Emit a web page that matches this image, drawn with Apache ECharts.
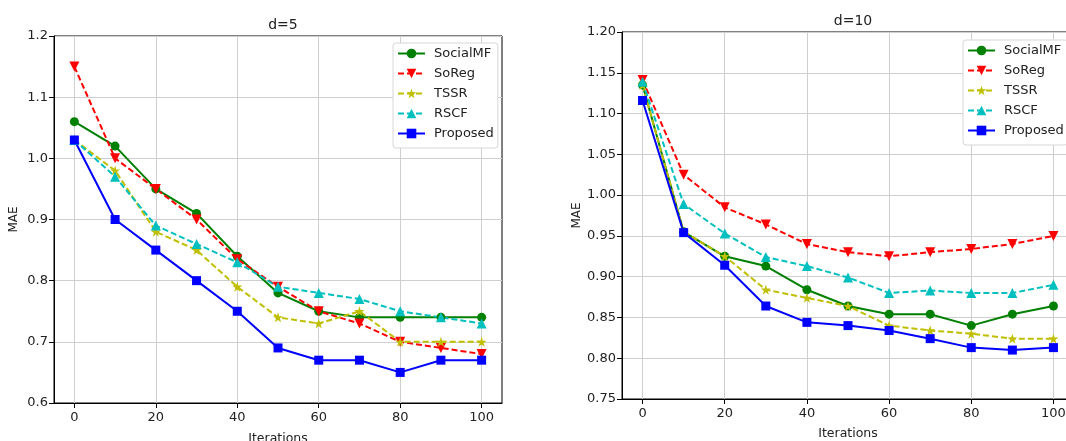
<!DOCTYPE html>
<html>
<head>
<meta charset="utf-8">
<script src="https://cdn.jsdelivr.net/npm/echarts@6/dist/echarts.min.js"></script>
<style>html,body{margin:0;padding:0;background:#fff;}#c{width:1066px;height:441px;}</style>
</head>
<body>
<div id="c"></div>
<script>
const iterations = [0, 10, 20, 30, 40, 50, 60, 70, 80, 90, 100];
const xTicks = [0, 20, 40, 60, 80, 100];
const seriesNames = ['SocialMF', 'SoReg', 'TSSR', 'RSCF', 'Proposed'];

const d5SocialMF = [1.06, 1.02, 0.95, 0.91, 0.84, 0.78, 0.75, 0.74, 0.74, 0.74, 0.74];
const d5SoReg    = [1.15, 1.00, 0.95, 0.90, 0.835, 0.79, 0.75, 0.73, 0.70, 0.69, 0.68];
const d5TSSR     = [1.03, 0.98, 0.88, 0.85, 0.79, 0.74, 0.73, 0.75, 0.70, 0.70, 0.70];
const d5RSCF     = [1.03, 0.97, 0.89, 0.86, 0.83, 0.79, 0.78, 0.77, 0.75, 0.74, 0.73];
const d5Proposed = [1.03, 0.90, 0.85, 0.80, 0.75, 0.69, 0.67, 0.67, 0.65, 0.67, 0.67];

const d10SocialMF = [1.135, 0.955, 0.925, 0.913, 0.884, 0.864, 0.854, 0.854, 0.840, 0.854, 0.864];
const d10SoReg    = [1.141, 1.025, 0.985, 0.964, 0.940, 0.930, 0.925, 0.930, 0.934, 0.940, 0.950];
const d10TSSR     = [1.135, 0.955, 0.925, 0.884, 0.874, 0.864, 0.840, 0.834, 0.830, 0.824, 0.824];
const d10RSCF     = [1.139, 0.989, 0.953, 0.924, 0.913, 0.899, 0.880, 0.883, 0.880, 0.880, 0.890];
const d10Proposed = [1.116, 0.954, 0.914, 0.864, 0.844, 0.840, 0.834, 0.824, 0.813, 0.810, 0.813];

const FONT = 'DejaVu Sans';
const STAR = 'path://M50,0 L61.8,35.5 L99,35.5 L69,57.5 L80.5,93 L50,71 L19.5,93 L31,57.5 L1,35.5 L38.2,35.5 Z';
const TRI_DOWN = 'path://M0,0 L100,0 L50,87 Z';
const TRI_UP = 'path://M50,0 L100,87 L0,87 Z';

const styles = {
  SocialMF: {color: '#008000', type: 'solid', symbol: 'circle', size: 9},
  SoReg:    {color: '#ff0000', type: [6, 3], symbol: TRI_DOWN, size: 10},
  TSSR:     {color: '#bfbf00', type: [6, 3], symbol: STAR, size: 10},
  RSCF:     {color: '#00bfbf', type: [6, 3], symbol: TRI_UP, size: 10},
  Proposed: {color: '#0000ff', type: 'solid', symbol: 'rect', size: 9}
};

function mkSeries(name, vals, idx) {
  const s = styles[name];
  return {
    name: name, type: 'line', xAxisIndex: idx, yAxisIndex: idx,
    data: iterations.map((x, i) => [x, vals[i]]),
    symbol: s.symbol, symbolSize: s.size, showAllSymbol: true,
    itemStyle: {color: s.color},
    lineStyle: {color: s.color, width: 2, type: s.type},
    animation: false, silent: true
  };
}

function mkX(idx, gap) {
  return {
    type: 'value', gridIndex: idx, min: -5, max: 105,
    name: 'Iterations', nameLocation: 'middle', nameGap: gap,
    nameTextStyle: {fontFamily: FONT, fontSize: 12.5, color: '#222'},
    axisLine: {show: true, onZero: false, lineStyle: {color: '#000', width: 1}},
    axisTick: {show: true, inside: false, length: 5, customValues: xTicks, lineStyle: {color: '#000'}},
    axisLabel: {customValues: xTicks, fontFamily: FONT, fontSize: 13, color: '#222', margin: 8},
    splitLine: {show: true, lineStyle: {color: '#cfcfcf', width: 1}}
  };
}
function mkY(idx, min, max, interval, dec) {
  return {
    type: 'value', gridIndex: idx, min: min, max: max, interval: interval,
    name: 'MAE', nameLocation: 'middle', nameGap: 34, nameRotate: 90,
    nameTextStyle: {fontFamily: FONT, fontSize: 12, color: '#222'},
    axisLine: {show: true, onZero: false, lineStyle: {color: '#000', width: 1}},
    axisTick: {show: true, inside: false, length: 5, lineStyle: {color: '#000'}},
    axisLabel: {fontFamily: FONT, fontSize: 13, color: '#222', margin: 6,
      formatter: v => v.toFixed(dec)},
    splitLine: {show: true, lineStyle: {color: '#cfcfcf', width: 1}}
  };
}
function mkLegend(left, top) {
  return {
    data: seriesNames, orient: 'vertical', left: left, top: top,
    itemWidth: 27, itemHeight: 12, itemGap: 7,
    padding: [4, 4, 8, 4],
    backgroundColor: '#fff', borderColor: '#d6d6d6', borderWidth: 1, borderRadius: 3,
    textStyle: {fontFamily: FONT, fontSize: 13, color: '#222', padding: [0, 0, 0, 4]},
    selectedMode: false
  };
}

const series = [];
[d5SocialMF, d5SoReg, d5TSSR, d5RSCF, d5Proposed].forEach((v, i) => series.push(mkSeries(seriesNames[i], v, 0)));
[d10SocialMF, d10SoReg, d10TSSR, d10RSCF, d10Proposed].forEach((v, i) => series.push(mkSeries(seriesNames[i], v, 1)));

const chart = echarts.init(document.getElementById('c'), null, {renderer: 'canvas'});
chart.setOption({
  backgroundColor: '#fff',
  animation: false,
  title: [
    {text: 'd=5', left: 278, top: 13, textAlign: 'center', textStyle: {fontFamily: FONT, fontSize: 14, fontWeight: 'normal', color: '#222'}},
    {text: 'd=10', left: 848, top: 9, textAlign: 'center', textStyle: {fontFamily: FONT, fontSize: 14, fontWeight: 'normal', color: '#222'}}
  ],
  grid: [
    {left: 54, top: 36, width: 448, height: 367, show: true, borderColor: '#000', borderWidth: 1, backgroundColor: 'transparent', outerBoundsMode: 'none', containLabel: false},
    {left: 622, top: 32, width: 452, height: 367, show: true, borderColor: '#000', borderWidth: 1, backgroundColor: 'transparent', outerBoundsMode: 'none', containLabel: false}
  ],
  xAxis: [mkX(0, 29), mkX(1, 28)],
  yAxis: [mkY(0, 0.6, 1.2, 0.1, 1), mkY(1, 0.75, 1.2, 0.05, 2)],
  legend: [mkLegend(393, 43), mkLegend(963, 40)],
  series: series
});
</script>
</body>
</html>
